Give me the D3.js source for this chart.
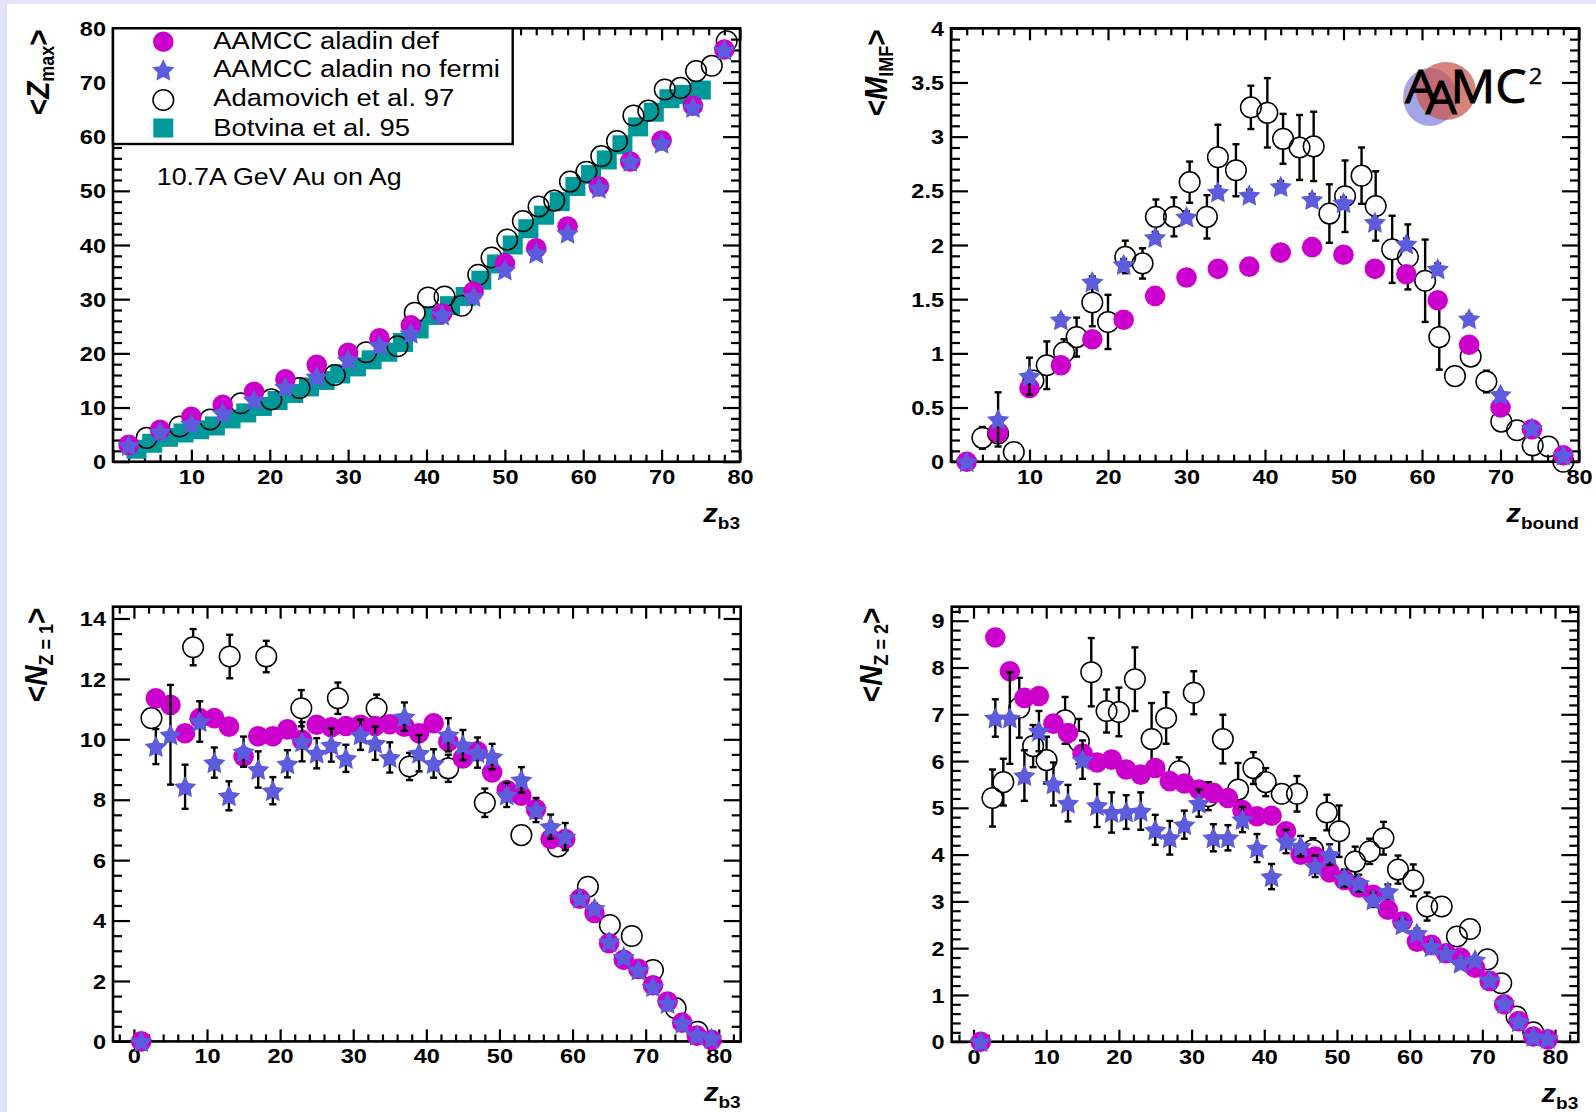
<!DOCTYPE html>
<html><head><meta charset="utf-8">
<script src="https://cdn.jsdelivr.net/npm/d3@7"></script>
<style>
html,body{margin:0;padding:0;background:#fff;}
svg{display:block;}
</style></head><body>
<svg id="c" width="1596" height="1112"></svg>
<script>
// ---------------- DATA ----------------
// Panel 1: <Zmax> vs Zb3
const p1_sim_x = [2,6,10,14,18,22,26,30,34,38,42,46,50,54,58,62,66,70,74,78];
const p1_def_y = [3.1,5.9,8.3,10.5,12.9,15.2,17.9,20.1,22.8,25.2,27.4,31.4,36.6,39.4,43.4,50.8,55.4,59.3,65.7,76.1];
const p1_nof_y = [3.0,5.5,7.0,9.0,11.4,13.8,15.7,18.8,21.5,23.7,27.1,30.5,35.4,38.5,42.2,50.5,55.4,58.8,65.4,76.0];
const p1_adam_x = [4.3,8.5,12.4,16.3,20.2,23.8,28.3,32.3,36.3,38.5,40.2,42.3,44.5,46.6,48.3,50.3,52.3,54.3,56.3,58.3,60.4,62.3,64.3,66.4,68.3,70.4,72.4,74.4,76.4,78.3];
const p1_adam_y = [4.4,6.5,7.8,10.8,11.5,13.6,16.0,20.2,21.3,27.5,30.3,30.5,28.8,34.5,37.7,41.0,44.4,47.1,48.2,51.7,53.5,56.4,59.2,63.9,64.8,68.7,69.0,72.1,73.1,77.6];
const p1_botv_x = [3,5,7,9,11,13,15,17,19,21,23,25,27,29,31,33,35,37,39,41,43,45,47,49,51,53,55,57,59,61,63,65,67,69,71,73,75];
const p1_botv_y = [2.3,3.4,4.5,5.3,5.9,6.6,7.9,9.0,10.2,11.3,12.6,13.8,15.0,16.2,17.5,18.8,20.2,22.0,24.5,27.0,28.8,30.5,33.5,36.5,40.0,43.0,45.5,48.0,50.8,53.0,55.7,58.5,61.8,64.5,67.0,67.8,68.6];

// Panel 2: <M_IMF> vs Zbound
const p2_sim_x = [2,6,10,14,18,22,26,30,34,38,42,46,50,54,58,62,66,70,74,78];
const p2_def_y = [0,0.27,0.68,0.89,1.13,1.31,1.53,1.70,1.78,1.80,1.93,1.98,1.91,1.78,1.73,1.49,1.08,0.50,0.30,0.06];
const p2_nof_y = [0,0.39,0.79,1.31,1.66,1.82,2.07,2.26,2.49,2.46,2.54,2.42,2.39,2.21,2.01,1.78,1.32,0.62,0.31,0.06];
const p2_nof_e = [0,0.25,0.17,0.04,0.05,0.05,0.05,0.05,0.05,0.05,0.05,0.05,0.05,0.05,0.05,0.05,0.04,0.03,0.02,0.01];
const p2_adam_x = [4,6,8,10.5,12.2,14.4,16,18,20,22.2,24.4,26.1,28.4,30.4,32.6,34,36.3,38.2,40.3,42.3,44.4,46.2,48.2,50.2,52.3,54.1,56.2,58.2,60.4,62.2,64.2,66.2,68.2,70.1,72.1,74.1,76.1,78];
const p2_adam_y = [0.22,0.26,0.09,0.75,0.89,1.01,1.15,1.47,1.29,1.89,1.83,2.26,2.26,2.58,2.26,2.81,2.69,3.27,3.22,2.98,2.90,2.91,2.29,2.45,2.64,2.36,1.96,1.89,1.67,1.15,0.79,0.97,0.74,0.37,0.29,0.15,0.14,0.0];
const p2_adam_e = [0.1,0.05,0.05,0.08,0.22,0.12,0.18,0.22,0.25,0.15,0.14,0.16,0.18,0.19,0.2,0.3,0.24,0.2,0.32,0.23,0.3,0.32,0.27,0.33,0.26,0.32,0.31,0.3,0.38,0.3,0.06,0.05,0.1,0.05,0.04,0.03,0.03,0.02];

// Panel 3: <N_Z=1> vs Zb3
const p3_sim_x = [1,3,5,7,9,11,13,15,17,19,21,23,25,27,29,31,33,35,37,39,41,43,45,47,49,51,53,55,57,59,61,63,65,67,69,71,73,75,77,79];
const p3_def_y = [0,11.36,11.14,10.2,10.7,10.7,10.42,9.43,10.1,10.1,10.33,9.98,10.48,10.4,10.44,10.48,10.44,10.5,10.42,10.2,10.53,9.92,9.37,9.6,8.9,8.32,8.13,7.69,6.7,6.7,4.72,4.25,3.25,2.7,2.4,1.86,1.32,0.62,0.19,0.05];
const p3_nof_y = [0,9.76,10.15,8.43,10.59,9.23,8.13,9.59,9.0,8.3,9.19,9.92,9.54,9.81,9.37,10.15,9.87,9.4,10.75,9.54,9.2,10.15,9.81,9.56,9.43,8.16,8.66,7.66,7.11,6.78,4.74,4.41,3.3,2.8,2.36,1.81,1.26,0.6,0.21,0.1];
const p3_nof_e = [0,0.58,1.65,0.73,0.67,0.5,0.48,0.5,0.6,0.45,0.45,0.65,0.5,0.55,0.45,0.5,0.55,0.5,0.47,0.6,0.47,0.55,0.5,0.5,0.42,0.4,0.42,0.4,0.4,0.45,0.15,0.15,0.12,0.1,0.1,0.08,0.06,0.05,0.03,0.02];
const p3_adam_x = [2.4,8.1,13.1,18.1,22.9,27.9,33.2,37.7,43,48,53,58,62.1,65.1,68.1,71,74.1,77.1];
const p3_adam_y = [10.7,13.05,12.74,12.74,11.03,11.36,11.03,9.1,9.04,7.9,6.83,6.45,5.12,3.85,3.49,2.36,1.1,0.32];
const p3_adam_e = [0.3,0.6,0.72,0.52,0.6,0.52,0.45,0.45,0.45,0.47,0.3,0.3,0.2,0.15,0.15,0.1,0.1,0.05];

// Panel 4: <N_Z=2> vs Zb3
const p4_sim_x = [1,3,5,7,9,11,13,15,17,19,21,23,25,27,29,31,33,35,37,39,41,43,45,47,49,51,53,55,57,59,61,63,65,67,69,71,73,75,77,79];
const p4_def_y = [0,8.64,7.92,7.35,7.39,6.8,6.6,6.16,5.97,6.03,5.82,5.71,5.85,5.57,5.52,5.39,5.32,5.21,4.95,4.82,4.83,4.5,4.0,3.96,3.62,3.46,3.3,3.14,2.82,2.57,2.14,2.07,1.89,1.8,1.58,1.3,0.8,0.44,0.11,0.05];
const p4_nof_y = [0,6.92,6.92,5.69,6.64,5.51,5.1,6.03,5.05,4.9,4.91,4.93,4.53,4.36,4.64,5.1,4.36,4.36,4.75,4.14,3.53,4.28,4.18,3.75,4.0,3.5,3.39,3.03,3.21,2.5,2.32,2.03,1.89,1.68,1.75,1.32,0.82,0.43,0.11,0.07];
const p4_nof_e = [0,0.4,0.98,0.54,0.43,0.46,0.39,0.41,0.46,0.43,0.36,0.4,0.32,0.36,0.3,0.29,0.29,0.27,0.27,0.3,0.27,0.25,0.22,0.23,0.22,0.18,0.18,0.15,0.15,0.12,0.1,0.1,0.08,0.08,0.07,0.06,0.05,0.04,0.03,0.02];
const p4_adam_x = [2.6,4.1,6.3,8.2,10.05,12.6,14.5,16.2,18.3,20.0,22.2,24.5,26.5,28.3,30.3,32.3,34.3,36.4,38.5,40.2,42.4,44.5,46.7,48.6,50.3,52.5,54.5,56.4,58.4,60.5,62.4,64.4,66.5,68.3,70.7,72.6,74.7,77.0];
const p4_adam_y = [5.21,5.55,7.14,6.32,6.02,6.87,6.42,7.9,7.07,7.05,7.75,6.47,6.92,5.78,7.46,5.25,6.47,5.39,5.85,5.55,5.3,5.3,4.1,4.9,4.5,3.85,4.07,4.35,3.68,3.45,2.89,2.89,2.25,2.41,1.76,1.25,0.54,0.2];
const p4_adam_e = [0.61,0.5,0.64,0.45,0.5,0.5,0.48,0.73,0.46,0.52,0.68,0.77,0.55,0.3,0.46,0.3,0.52,0.57,0.34,0.3,0.2,0.38,0.25,0.38,0.55,0.32,0.27,0.35,0.3,0.34,0.3,0.1,0.22,0.1,0.1,0.08,0.05,0.04];

const legendLabels = ["AAMCC aladin def","AAMCC aladin no fermi","Adamovich et al. 97","Botvina et al. 95"];
const annotation = "10.7A GeV Au on Ag";

// ---------------- STYLE ----------------
const SX = 1.12;
const C_DEF = "#cc00cc", C_NOF = "#5c5cdc", C_BOT = "#009999";
const FONT = "'Liberation Sans', Arial, Helvetica, sans-serif";

const svg = d3.select('#c');
svg.append('rect').attr('width',1596).attr('height',1112).attr('fill','#e4e4f8');
svg.append('rect').attr('x',7).attr('y',4).attr('width',1589).attr('height',1108).attr('fill','#fff');

function starPath(R){
  const r = R*0.5, pts=[];
  for(let i=0;i<10;i++){
    const a = -Math.PI/2 + i*Math.PI/5, rr = i%2? r:R;
    pts.push([rr*Math.cos(a), rr*Math.sin(a)]);
  }
  return "M"+pts.map(p=>p[0].toFixed(2)+","+p[1].toFixed(2)).join("L")+"Z";
}
const STAR = starPath(11.8);

const fmt = d => String(+d.toFixed(3));
function rng(a,b,s){ const out=[]; const k0=Math.ceil(a/s-1e-9), k1=Math.floor(b/s+1e-9); for(let k=k0;k<=k1;k++) out.push(+(k*s).toFixed(6)); return out; }

const panels = [
 {x0:113, x1:740, y0:28.3, y1:461.7, xd:[0,80], yd:[0,80], xMaj:10, xMin:2, yMaj:10, yMin:2, hideX0:true,
  ytitle:["<","Z","max",">"], ytx:48.5, xtitle:["z","b3"],
  simx:p1_sim_x, def:p1_def_y, nof:p1_nof_y, nofe:null, ax:p1_adam_x, ay:p1_adam_y, ae:null, bx:p1_botv_x, by:p1_botv_y},
 {x0:951, x1:1579, y0:28.3, y1:461.7, xd:[0,80], yd:[0,4], xMaj:10, xMin:2, yMaj:0.5, yMin:0.1, hideX0:true,
  ytitle:["<","M","IMF",">"], ytx:887, xtitle:["z","bound"],
  simx:p2_sim_x, def:p2_def_y, nof:p2_nof_y, nofe:p2_nof_e, ax:p2_adam_x, ay:p2_adam_y, ae:p2_adam_e},
 {x0:113, x1:740.7, y0:606.7, y1:1041.4, xd:[-2.86,83.0], yd:[0,14.39], xMaj:10, xMin:2, yMaj:2, yMin:0.5, hideX0:false,
  ytitle:["<","N","Z = 1",">"], ytx:47, xtitle:["z","b3"],
  simx:p3_sim_x, def:p3_def_y, nof:p3_nof_y, nofe:p3_nof_e, ax:p3_adam_x, ay:p3_adam_y, ae:p3_adam_e},
 {x0:951.7, x1:1578.3, y0:606.7, y1:1041.7, xd:[-3.0,83.2], yd:[0,9.3], xMaj:10, xMin:2, yMaj:1, yMin:0.2, hideX0:false,
  ytitle:["<","N","Z = 2",">"], ytx:882, xtitle:["z","b3"],
  simx:p4_sim_x, def:p4_def_y, nof:p4_nof_y, nofe:p4_nof_e, ax:p4_adam_x, ay:p4_adam_y, ae:p4_adam_e}
];

function styleAxis(g){
  g.select('.domain').remove();
  g.selectAll('.tick line').attr('stroke','#000').attr('stroke-width',2.2);
  g.selectAll('.tick text').attr('fill','#000').attr('font-family',FONT).attr('font-weight','bold').attr('font-size',21);
}

function errBars(g, xs, ys, es, x, y, gap){
  if(!es) return;
  xs.forEach((xv,i)=>{
    const e = es[i]; if(!e) return;
    const cx = x(xv), cy = y(ys[i]), top = y(ys[i]+e), bot = y(ys[i]-e);
    const segs = [];
    if(cy-top > gap) segs.push([top, cy-gap, top]);
    if(bot-cy > gap) segs.push([cy+gap, bot, bot]);
    segs.forEach(s=>{
      g.append('line').attr('x1',cx).attr('x2',cx).attr('y1',s[0]).attr('y2',s[1]).attr('stroke','#000').attr('stroke-width',2.4);
      g.append('line').attr('x1',cx-3.5).attr('x2',cx+3.5).attr('y1',s[2]).attr('y2',s[2]).attr('stroke','#000').attr('stroke-width',2.4);
    });
  });
}

panels.forEach((p,pi)=>{
  const g = svg.append('g');
  const x = d3.scaleLinear().domain(p.xd).range([p.x0,p.x1]);
  const y = d3.scaleLinear().domain(p.yd).range([p.y1,p.y0]);
  const xM = rng(p.xd[0],p.xd[1],p.xMaj), xm = rng(p.xd[0],p.xd[1],p.xMin).filter(v=>!xM.includes(v));
  const yM = rng(p.yd[0],p.yd[1],p.yMaj), ym = rng(p.yd[0],p.yd[1],p.yMin).filter(v=>!yM.some(m=>Math.abs(m-v)<1e-6));
  const xf = d => (p.hideX0 && d===0) ? "" : fmt(d);

  // bottom
  const ba = g.append('g').attr('transform',`translate(0,${p.y1})`).call(d3.axisBottom(x).tickValues(xM).tickSizeInner(-12).tickSizeOuter(0).tickPadding(7).tickFormat(xf)).call(styleAxis);
  ba.selectAll('.tick text').attr('transform',`scale(${SX},1)`);
  g.append('g').attr('transform',`translate(0,${p.y1})`).call(d3.axisBottom(x).tickValues(xm).tickSizeInner(-7).tickSizeOuter(0).tickFormat(()=>"")).call(styleAxis);
  // top
  g.append('g').attr('transform',`translate(0,${p.y0})`).call(d3.axisTop(x).tickValues(xM).tickSizeInner(-12).tickSizeOuter(0).tickFormat(()=>"")).call(styleAxis);
  g.append('g').attr('transform',`translate(0,${p.y0})`).call(d3.axisTop(x).tickValues(xm).tickSizeInner(-7).tickSizeOuter(0).tickFormat(()=>"")).call(styleAxis);
  // left
  const la = g.append('g').attr('transform',`translate(${p.x0},0)`).call(d3.axisLeft(y).tickValues(yM).tickSizeInner(-17).tickSizeOuter(0).tickPadding(7).tickFormat(fmt)).call(styleAxis);
  la.selectAll('.tick text').attr('x', -7/SX).attr('transform',`scale(${SX},1)`).attr('dy','0.34em');
  g.append('g').attr('transform',`translate(${p.x0},0)`).call(d3.axisLeft(y).tickValues(ym).tickSizeInner(-9).tickSizeOuter(0).tickFormat(()=>"")).call(styleAxis);
  // right
  g.append('g').attr('transform',`translate(${p.x1},0)`).call(d3.axisRight(y).tickValues(yM).tickSizeInner(-17).tickSizeOuter(0).tickFormat(()=>"")).call(styleAxis);
  g.append('g').attr('transform',`translate(${p.x1},0)`).call(d3.axisRight(y).tickValues(ym).tickSizeInner(-9).tickSizeOuter(0).tickFormat(()=>"")).call(styleAxis);

  // frame
  g.append('rect').attr('x',p.x0).attr('y',p.y0).attr('width',p.x1-p.x0).attr('height',p.y1-p.y0)
    .attr('fill','none').attr('stroke','#000').attr('stroke-width',2.6);

  // y title
  const yt = g.append('text').attr('transform',`translate(${p.ytx},${p.y0+1}) scale(${SX},1) rotate(-90)`)
    .attr('text-anchor','end').attr('font-family',FONT).attr('font-weight','bold').attr('font-size',28).attr('fill','#000');
  yt.append('tspan').text(p.ytitle[0]);
  yt.append('tspan').attr('font-style','italic').text(p.ytitle[1]);
  yt.append('tspan').attr('font-size',18).attr('dy',5).text(p.ytitle[2]);
  yt.append('tspan').attr('dy',-5).text(p.ytitle[3]);
  // x title
  const xt = g.append('text').attr('transform',`translate(${p.x1},${p.y1+60}) scale(${SX},1)`)
    .attr('text-anchor','end').attr('font-family',FONT).attr('font-weight','bold').attr('font-size',26).attr('fill','#000');
  xt.append('tspan').attr('font-style','italic').text(p.xtitle[0]);
  xt.append('tspan').attr('font-size',17).attr('dy',7).text(p.xtitle[1]);

  // data
  const d = g.append('g');
  if(p.bx){
    d.selectAll('rect.b').data(p.bx).join('rect').attr('class','b')
      .attr('x',(v)=>x(v)-10).attr('y',(v,i)=>y(p.by[i])-9.5).attr('width',20).attr('height',19).attr('fill',C_BOT);
  }
  errBars(d, p.ax, p.ay, p.ae, x, y, 10.3);
  d.selectAll('circle.a').data(p.ax).join('circle').attr('class','a')
    .attr('cx',v=>x(v)).attr('cy',(v,i)=>y(p.ay[i])).attr('r',10.3)
    .attr('fill','none').attr('stroke','#000').attr('stroke-width',1.5);
  d.selectAll('circle.m').data(p.simx).join('circle').attr('class','m')
    .attr('cx',v=>x(v)).attr('cy',(v,i)=>y(p.def[i])).attr('r',10.3).attr('fill',C_DEF);
  errBars(d, p.simx, p.nof, p.nofe, x, y, 0);
  d.selectAll('path.s').data(p.simx).join('path').attr('class','s')
    .attr('d',STAR).attr('transform',(v,i)=>`translate(${x(v)},${y(p.nof[i])+1})`).attr('fill',C_NOF);
});

// ---------- panel 1 legend & annotation ----------
const lg = svg.append('g');
lg.append('rect').attr('x',113).attr('y',28.3).attr('width',399.7).attr('height',115.7)
  .attr('fill','#fff').attr('stroke','#000').attr('stroke-width',2.4);
const lmY = [41.7,70,100,128], ltY=[48.5,77.3,106.2,136];
lg.append('circle').attr('cx',163.3).attr('cy',lmY[0]).attr('r',10.3).attr('fill',C_DEF);
lg.append('path').attr('d',STAR).attr('transform',`translate(163.3,${lmY[1]+1})`).attr('fill',C_NOF);
lg.append('circle').attr('cx',163.3).attr('cy',lmY[2]).attr('r',10.3).attr('fill','none').attr('stroke','#000').attr('stroke-width',1.5);
lg.append('rect').attr('x',153.3).attr('y',lmY[3]-9.5).attr('width',20).attr('height',19).attr('fill',C_BOT);
legendLabels.forEach((t,i)=>{
  lg.append('text').attr('transform',`translate(213.3,${ltY[i]}) scale(${SX},1)`)
    .attr('font-family',FONT).attr('font-size',24.5).attr('fill','#000').text(t);
});
svg.append('text').attr('transform',`translate(156.7,185) scale(${SX},1)`)
  .attr('font-family',FONT).attr('font-size',24).attr('fill','#000').text(annotation);

// ---------- logo ----------
const lo = svg.append('g');
lo.append('ellipse').attr('cx',1430).attr('cy',97).attr('rx',27).attr('ry',29).attr('fill','#8f8fe0').attr('opacity',0.8);
lo.append('ellipse').attr('cx',1446).attr('cy',91).attr('rx',30).attr('ry',29).attr('fill','#c9554b').attr('opacity',0.72);
const LF = "'Open Sans', 'Noto Sans', sans-serif";
const lt = lo.append('text').attr('transform',`translate(1405,103) scale(1.08,1)`)
  .attr('font-family',LF).attr('font-size',46).attr('fill','#000').attr('stroke','#000').attr('stroke-width',0.9);
lt.append('tspan').text("A");
lt.append('tspan').attr('dx',-10).attr('dy',11).text("A");
lt.append('tspan').attr('dx',-6).attr('dy',-11).text("MC");
lt.append('tspan').attr('font-size',22).attr('dx',2).attr('dy',-19).attr('stroke-width',0.4).text("2");
</script>
</body></html>
